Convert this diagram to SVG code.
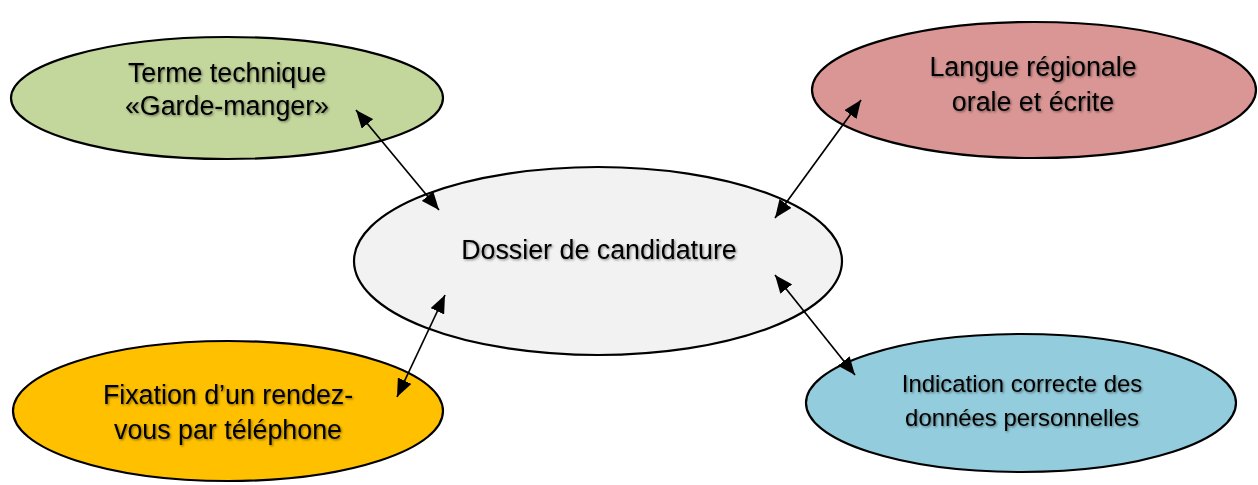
<svg xmlns="http://www.w3.org/2000/svg" width="1258" height="485" viewBox="0 0 1258 485">
<style>
.node ellipse{stroke:#000;stroke-width:2.2}
.lbl{font-family:"Liberation Sans",Arial,sans-serif;fill:#000;text-anchor:middle;filter:url(#sh)}
.big{font-size:26.8px}
.small{font-size:23.9px}
.conn line{stroke:#000;stroke-width:1.7;marker-start:url(#ah);marker-end:url(#ah)}
</style>
<defs>
<filter id="sh" x="-10%" y="-30%" width="120%" height="160%">
<feDropShadow dx="1.2" dy="1.2" stdDeviation="0.9" flood-color="#000" flood-opacity="0.45"/>
</filter>
<marker id="ah" markerUnits="userSpaceOnUse" markerWidth="19" markerHeight="15" refX="18" refY="7.5" orient="auto-start-reverse" viewBox="0 0 19 15">
<path d="M0,0 L18,7.5 L0,15 z" fill="#000"/>
</marker>
</defs>
<rect width="1258" height="485" fill="#fff"/>
<g id="node-center" class="node">
<ellipse cx="598" cy="261" rx="244" ry="94" fill="#F2F2F2"/>
<text class="lbl big" x="599" y="259">Dossier de candidature</text>
</g>
<g id="node-terme" class="node">
<ellipse cx="227" cy="98" rx="216" ry="61" fill="#C3D69B"/>
<text class="lbl big" x="227" y="82">Terme technique</text>
<text class="lbl big" x="227" y="115">«Garde-manger»</text>
</g>
<g id="node-langue" class="node">
<ellipse cx="1034" cy="90" rx="222" ry="68" fill="#D99694"/>
<text class="lbl big" x="1033" y="76">Langue régionale</text>
<text class="lbl big" x="1033" y="111">orale et écrite</text>
</g>
<g id="node-fixation" class="node">
<ellipse cx="228" cy="411" rx="215" ry="70" fill="#FFC000"/>
<text class="lbl big" x="228" y="404">Fixation d’un rendez-</text>
<text class="lbl big" x="228" y="439">vous par téléphone</text>
</g>
<g id="node-indication" class="node">
<ellipse cx="1021" cy="403" rx="215" ry="69" fill="#93CDDD"/>
<text class="lbl small" x="1022" y="392">Indication correcte des</text>
<text class="lbl small" x="1022" y="426">données personnelles</text>
</g>
<g id="connectors" class="conn">
<line x1="356" y1="110" x2="439" y2="210"/>
<line x1="861" y1="100" x2="775" y2="218"/>
<line x1="397" y1="397" x2="445" y2="295"/>
<line x1="855" y1="375" x2="775" y2="275"/>
</g>
</svg>
